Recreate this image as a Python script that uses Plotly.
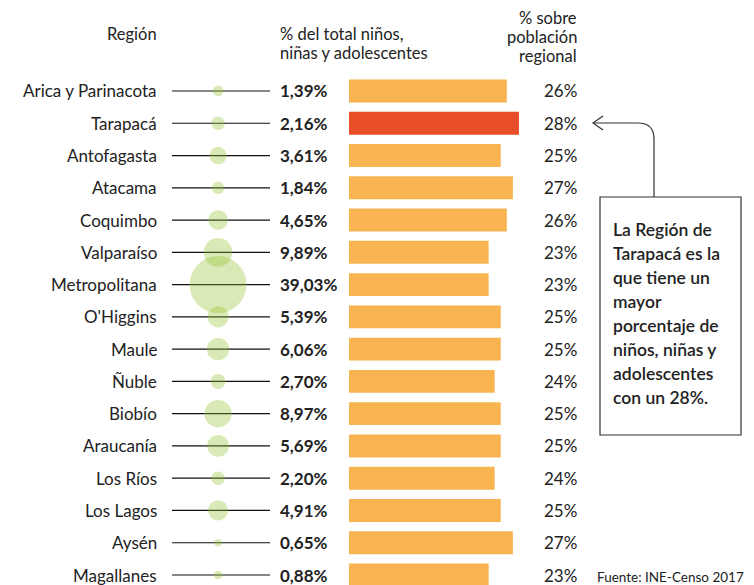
import plotly.graph_objects as go

# la pagina tiene un margen de 8px, la figura se dibuja desplazada
OFF = 8
W, H = 754 - OFF, 585 - OFF

regiones = ["Arica y Parinacota", "Tarapacá", "Antofagasta", "Atacama", "Coquimbo",
            "Valparaíso", "Metropolitana", "O'Higgins", "Maule", "Ñuble", "Biobío",
            "Araucanía", "Los Ríos", "Los Lagos", "Aysén", "Magallanes"]
pct_total = [1.39, 2.16, 3.61, 1.84, 4.65, 9.89, 39.03, 5.39, 6.06, 2.70, 8.97,
             5.69, 2.20, 4.91, 0.65, 0.88]
pct_regional = [26, 28, 25, 27, 26, 23, 23, 25, 25, 24, 25, 25, 24, 25, 27, 23]
destacada = "Tarapacá"

col_region = ["Región"]
col_total = ["% del total niños,", "niñas y adolescentes"]
col_regional = ["% sobre", "población", "regional"]
nota = ["La Región de", "Tarapacá es la", "que tiene un", "mayor",
        "porcentaje de", "niños, niñas y", "adolescentes", "con un 28%."]
fuente = "Fuente: INE-Censo 2017"

FONT = "Lato"
TXT = "#222222"
NARANJA = "#F8B450"
ROJO = "#E84E27"
FS = 17


def px(x):
    return (x - OFF) / W


def py(y):
    return 1 - (y - OFF) / H


def texto(x, y, t, anchor, size=FS, **kw):
    return dict(xref="paper", yref="paper", x=px(x), y=py(y), text=t,
                xanchor=anchor, yanchor="middle", showarrow=False,
                font=dict(family=FONT, size=size, color=TXT, **kw))


idx = list(range(len(regiones)))
fig = go.Figure()

# puntos (% del total)
fig.add_trace(go.Scatter(
    x=[0.47] * len(idx), y=idx, mode="markers",
    marker=dict(size=pct_total, sizemode="area",
                sizeref=2 * max(pct_total) / 57 ** 2,
                color="rgba(150,195,45,0.5)", line=dict(width=0)),
    xaxis="x", yaxis="y", hoverinfo="skip", showlegend=False,
))

# barras (% sobre poblacion regional)
fig.add_trace(go.Bar(
    x=pct_regional, y=idx, orientation="h", width=0.71,
    marker=dict(color=[ROJO if r == destacada else NARANJA for r in regiones],
                line=dict(width=0)),
    xaxis="x2", yaxis="y", hoverinfo="skip", showlegend=False,
))

shapes = []
annotations = []
for i, r in enumerate(regiones):
    shapes.append(dict(type="line", xref="x", yref="y", x0=0, x1=1, y0=i, y1=i,
                       line=dict(color="#111", width=1.2), layer="below"))
    annotations.append(dict(xref="x", yref="y", x=0, y=i, text=r, showarrow=False,
                            xanchor="right", xshift=-13,
                            font=dict(family=FONT, size=FS, color=TXT)))
    annotations.append(dict(xref="x", yref="y", x=1, y=i,
                            text="<b>%s%%</b>" % f"{pct_total[i]:.2f}".replace(".", ","),
                            showarrow=False, xanchor="left", xshift=8,
                            font=dict(family=FONT, size=FS, color=TXT)))
    annotations.append(dict(xref="x2 domain", yref="y", x=1, y=i,
                            text=f"{pct_regional[i]}%", showarrow=False, xanchor="right",
                            xshift=2, font=dict(family=FONT, size=FS, color=TXT)))

# encabezados
for k, t in enumerate(col_region):
    annotations.append(texto(159, 34 + 19 * k, t, "right", size=16.5))
for k, t in enumerate(col_total):
    annotations.append(texto(278, 34 + 19 * k, t, "left", size=16.5))
for k, t in enumerate(col_regional):
    annotations.append(texto(579, 18 + 19 * k, t, "right", size=16.5))
annotations.append(texto(595, 577, fuente, "left", size=13.5))

# nota
for k, linea in enumerate(nota):
    annotations.append(texto(611, 229 + 24.1 * k, linea, "left", size=17.5, weight=600))

shapes.append(dict(type="rect", xref="paper", yref="paper",
                   x0=px(600), x1=px(741), y0=py(435), y1=py(197),
                   line=dict(color="#333", width=1.2)))
flecha = (f"M {px(654)},{py(197)} L {px(654)},{py(139)} "
          f"Q {px(654)},{py(123)} {px(638)},{py(123)} L {px(593)},{py(123)}")
shapes.append(dict(type="path", xref="paper", yref="paper", path=flecha,
                   line=dict(color="#333", width=1.2)))
shapes.append(dict(type="path", xref="paper", yref="paper",
                   path=f"M {px(603)},{py(116)} L {px(593)},{py(123)} L {px(603)},{py(130)}",
                   line=dict(color="#333", width=1.2)))

fila = 32.27
fig.update_layout(
    width=W, height=H,
    margin=dict(l=0, r=0, t=0, b=0),
    paper_bgcolor="white", plot_bgcolor="rgba(0,0,0,0)",
    xaxis=dict(domain=[px(172), px(270)], range=[0, 1], visible=False, anchor="y"),
    xaxis2=dict(domain=[px(349), px(577)], range=[0, 228 / 6.07], visible=False,
                anchor="y"),
    yaxis=dict(domain=[0, 1],
               range=[15 + (585 - 575) / fila, -(91 - OFF) / fila], visible=False),
    shapes=shapes,
    annotations=annotations,
)

fig.write_html("out.html")
